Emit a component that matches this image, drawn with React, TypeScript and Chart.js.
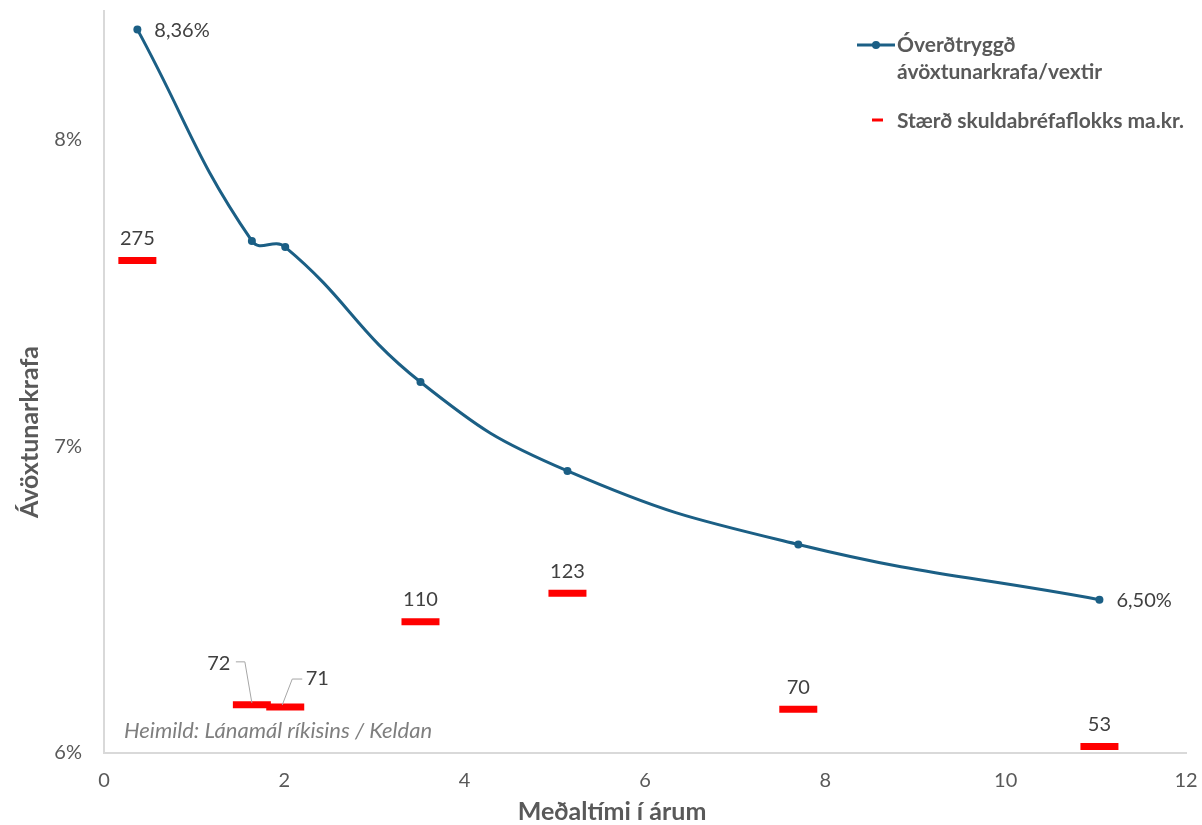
import React, { useEffect, useRef } from "react";
import { Chart, registerables } from "chart.js";

Chart.register(...registerables);

const durationYears = [0.37, 1.64, 2.01, 3.51, 5.14, 7.7, 11.04];
const yieldPct = [8.36, 7.67, 7.65, 7.21, 6.92, 6.68, 6.5];
const issueSize = [275, 72, 71, 110, 123, 70, 53];
const xTicks = [0, 2, 4, 6, 8, 10, 12];
const yTicks = [6, 7, 8];

const lineLabel = "Óverðtryggð ávöxtunarkrafa/vextir";
const sizeLabel = "Stærð skuldabréfaflokks ma.kr.";
const yTitle = "Ávöxtunarkrafa";
const xTitle = "Meðaltími í árum";
const sourceText = "Heimild: Lánamál ríkisins / Keldan";

const FONT = "Lato, 'Open Sans', sans-serif";
const LINE_COLOR = "#1B5F85";
const TEXT = "#404040";
const TITLE = "#595959";

const fmtPct = (v: number) => v.toFixed(2).replace(".", ",") + "%";

const overlayPlugin = {
  id: "overlay",
  afterDraw(chart: any) {
    const ctx = chart.ctx;
    ctx.save();
    const lm = chart.getDatasetMeta(0);
    ctx.fillStyle = TEXT;
    ctx.font = `20px ${FONT}`;
    ctx.textBaseline = "middle";
    ctx.textAlign = "left";
    const last = yieldPct.length - 1;
    [0, last].forEach((i) => {
      const p = lm.data[i];
      ctx.fillText(fmtPct(yieldPct[i]), p.x + 17, p.y + 1);
    });
    const sm = chart.getDatasetMeta(1);
    sm.data.forEach((p: any, i: number) => {
      const txt = String(issueSize[i]);
      ctx.fillStyle = TEXT;
      if (i === 1) {
        ctx.textAlign = "center";
        ctx.fillText(txt, p.x - 33, p.y - 41);
        ctx.strokeStyle = "#a6a6a6";
        ctx.lineWidth = 1;
        ctx.beginPath();
        ctx.moveTo(p.x - 16, p.y - 43);
        ctx.lineTo(p.x - 7, p.y - 43);
        ctx.lineTo(p.x, p.y - 2);
        ctx.stroke();
      } else if (i === 2) {
        ctx.textAlign = "center";
        ctx.fillText(txt, p.x + 32, p.y - 28);
        ctx.strokeStyle = "#a6a6a6";
        ctx.lineWidth = 1;
        ctx.beginPath();
        ctx.moveTo(p.x + 17, p.y - 28);
        ctx.lineTo(p.x + 7, p.y - 28);
        ctx.lineTo(p.x - 3, p.y - 2);
        ctx.stroke();
      } else {
        ctx.textAlign = "center";
        ctx.fillText(txt, p.x, p.y - 22);
      }
    });
    ctx.fillStyle = TITLE;
    ctx.font = `bold 25px ${FONT}`;
    ctx.textAlign = "center";
    ctx.fillText(xTitle, 612, 812);
    ctx.save();
    ctx.translate(30, 432);
    ctx.rotate(-Math.PI / 2);
    ctx.fillText(yTitle, 0, 0);
    ctx.restore();
    ctx.fillStyle = "#7f7f7f";
    ctx.font = `italic 22px ${FONT}`;
    ctx.textAlign = "left";
    ctx.fillText(sourceText, 124, 731);
    ctx.strokeStyle = LINE_COLOR;
    ctx.lineWidth = 3;
    ctx.beginPath();
    ctx.moveTo(857, 45);
    ctx.lineTo(895, 45);
    ctx.stroke();
    ctx.fillStyle = LINE_COLOR;
    ctx.beginPath();
    ctx.arc(876, 45, 4, 0, Math.PI * 2);
    ctx.fill();
    ctx.fillStyle = TITLE;
    ctx.font = `bold 21px ${FONT}`;
    const parts = lineLabel.split(" ");
    ctx.fillText(parts[0], 897, 45);
    ctx.fillText(parts[1], 897, 72);
    ctx.strokeStyle = "#ff0000";
    ctx.lineWidth = 3;
    ctx.beginPath();
    ctx.moveTo(872, 120);
    ctx.lineTo(883, 120);
    ctx.stroke();
    ctx.fillText(sizeLabel, 897, 121);
    ctx.restore();
  },
};

export default function App() {
  const ref = useRef<HTMLCanvasElement>(null);
  useEffect(() => {
    if (!ref.current) return;
    const chart = new Chart(ref.current, {
      type: "line",
      data: {
        datasets: [
          {
            label: lineLabel,
            data: durationYears.map((x, i) => ({ x, y: yieldPct[i] })),
            borderColor: LINE_COLOR,
            backgroundColor: LINE_COLOR,
            borderWidth: 3,
            pointRadius: 4,
            pointBackgroundColor: LINE_COLOR,
            pointBorderWidth: 0,
            tension: 0.45,
            yAxisID: "y",
          },
          {
            label: sizeLabel,
            data: durationYears.map((x, i) => ({ x, y: issueSize[i] })),
            showLine: false,
            pointStyle: "line",
            pointRadius: 19,
            pointBorderWidth: 7,
            pointBorderColor: "#ff0000",
            borderColor: "#ff0000",
            yAxisID: "y2",
          },
        ],
      },
      options: {
        responsive: false,
        animation: false,
        events: [],
        layout: { autoPadding: false, padding: { top: 11, right: 16, left: 0, bottom: 0 } },
        plugins: { legend: { display: false }, tooltip: { enabled: false } },
        scales: {
          x: {
            type: "linear",
            min: 0,
            max: 12,
            afterBuildTicks: (s: any) => {
              s.ticks = xTicks.map((v) => ({ value: v }));
            },
            afterFit: (s: any) => {
              s.height = 72;
              s.paddingLeft = 0;
              s.paddingRight = 0;
            },
            grid: { display: false, drawTicks: false },
            border: { display: true, color: "#d9d9d9", width: 2 },
            ticks: {
              padding: 16,
              color: "#595959",
              font: { family: FONT, size: 20 },
            },
          },
          y: {
            type: "linear",
            min: 6,
            max: 8.42,
            afterBuildTicks: (s: any) => {
              s.ticks = yTicks.map((v) => ({ value: v }));
            },
            afterFit: (s: any) => {
              s.width = 104;
              s.paddingTop = 0;
              s.paddingBottom = 0;
            },
            grid: { display: false, drawTicks: false },
            border: { display: true, color: "#d9d9d9", width: 2 },
            ticks: {
              padding: 22,
              color: "#595959",
              font: { family: FONT, size: 20 },
              callback: (v: any) => v + "%",
            },
          },
          y2: {
            type: "linear",
            display: false,
            min: 50,
            max: 389,
          },
        },
      },
      plugins: [overlayPlugin],
    } as any);
    return () => chart.destroy();
  }, []);
  return (
    <div style={{ position: "absolute", left: 0, top: 0, width: 1202, height: 825, background: "#fff" }}>
      <canvas ref={ref} width={1202} height={825} />
    </div>
  );
}
